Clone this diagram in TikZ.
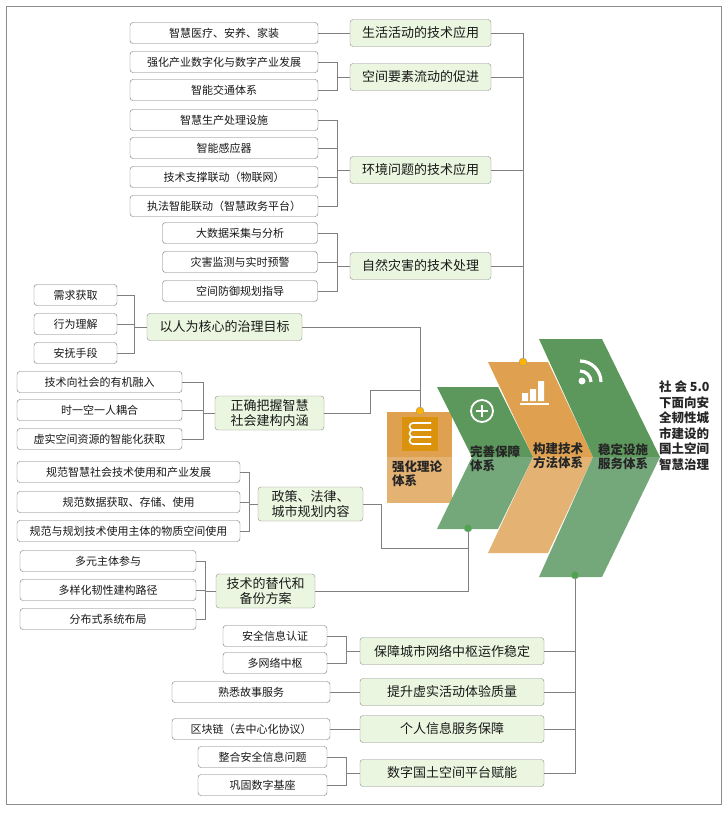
\documentclass[tikz,border=0pt]{standalone}
\usepackage{fontspec}
\setmainfont{Noto Sans CJK SC}
\begin{document}
\begin{tikzpicture}[x=1pt,y=-1pt,
 leaf/.style={draw=black!55,rounded corners=3pt,fill=white,minimum height=21pt,inner sep=1pt,font=\fontsize{11}{12}\selectfont,text=black!90},
 cat/.style={draw=black!45,rounded corners=3pt,fill=green!40!olive!12,minimum height=27pt,inner sep=2pt,font=\fontsize{13}{15}\selectfont,text=black!90,align=center},
 ln/.style={draw=black!50,line width=0.8pt},
 lab/.style={font=\bfseries\fontsize{12.5}{14}\selectfont,align=left,text=black!85,inner sep=0pt,anchor=north west},
 dot/.style={circle,draw=black!40,minimum size=8pt,inner sep=0pt}]
\useasboundingbox (0,0) rectangle (728,814);
\draw[black!45,line width=0.8pt] (6,6) rectangle (721,804);
\definecolor{og1}{HTML}{DFA150}\definecolor{og2}{HTML}{E4B273}
\definecolor{gr1}{HTML}{5C975C}\definecolor{gr2}{HTML}{74A87A}
% chevrons
\fill[og1] (387,412) rectangle (452,457);
\fill[og2] (387,457) rectangle (452,503);
\fill[gr1] (437,387) -- (498,387) -- (533,457) -- (472,457) -- cycle;
\fill[gr2] (472,457) -- (533,457) -- (498,529) -- (437,529) -- cycle;
\fill[og1] (488,362) -- (548,362) -- (593,457) -- (533,457) -- cycle;
\fill[og2] (533,457) -- (593,457) -- (548,553) -- (488,553) -- cycle;
\fill[gr1] (539,339) -- (602,339) -- (660,457) -- (593,457) -- cycle;
\fill[gr2] (593,457) -- (660,457) -- (602,577) -- (539,577) -- cycle;
% icons
\fill[orange!70!yellow!85!black!95] (402,417) rectangle (438,451);
\begin{scope}[white,line width=1.6pt]
\foreach \d in {0,7,14}{\draw (431,423+\d) -- (413,423+\d) arc(-90:-270:3.5) -- (431,430+\d);}
\end{scope}
\draw[white,line width=1.8pt] (482,411) circle (11);
\draw[white,line width=2.4pt] (476,411) -- (488,411) (482,405) -- (482,417);
\fill[white] (522,393) rectangle (528,401) (530,389) rectangle (536,401) (538,381) rectangle (544,401);
\fill[white] (520,403) rectangle (549,404.5);
\fill[white] (582,381) circle (3.5);
\draw[white,line width=3.2pt] (580,371) arc(-90:0:11) (580,361) arc(-90:0:21);
% chevron labels
\node[lab] at (392,461) {强化理论\\体系};
\node[lab] at (470,445) {完善保障\\体系};
\node[lab] at (533,443) {构建技术\\方法体系};
\node[lab] at (598,443) {稳定设施\\服务体系};
\node[lab,font=\bfseries\fontsize{12.5}{15.5}\selectfont] at (659,381) {社 会 5.0\\下面向安\\全韧性城\\市建设的\\国土空间\\智慧治理};
% dots
\node[dot,fill=orange!60!yellow] (d1) at (420,411) {};
\node[dot,fill=orange!60!yellow] (d2) at (523,362) {};
\node[dot,fill=green!50!black!70] (d3) at (468,528) {};
\node[dot,fill=green!50!black!70] (d4) at (575,575) {};
% top group
\node[cat,minimum width=141pt] (c1) at (420.5,33) {生活活动的技术应用};
\node[cat,minimum width=141pt] (c2) at (420.5,77) {空间要素流动的促进};
\node[cat,minimum width=141pt] (c3) at (420.5,170) {环境问题的技术应用};
\node[cat,minimum width=141pt] (c4) at (420.5,266) {自然灾害的技术处理};
\node[leaf,minimum width=188pt] (a1) at (224,33) {智慧医疗、安养、家装};
\node[leaf,minimum width=188pt] (a2) at (224,62) {强化产业数字化与数字产业发展};
\node[leaf,minimum width=188pt] (a3) at (224,90) {智能交通体系};
\node[leaf,minimum width=188pt] (a4) at (224,120) {智慧生产处理设施};
\node[leaf,minimum width=188pt] (a5) at (224,148) {智能感应器};
\node[leaf,minimum width=188pt] (a6) at (224,177) {技术支撑联动（物联网）};
\node[leaf,minimum width=188pt] (a7) at (224,206) {执法智能联动（智慧政务平台）};
\node[leaf,minimum width=155pt] (a8) at (240,233) {大数据采集与分析};
\node[leaf,minimum width=155pt] (a9) at (240,262) {灾害监测与实时预警};
\node[leaf,minimum width=155pt] (a10) at (240,291) {空间防御规划指导};
\draw[ln] (a1) -- (c1);
\foreach \l in {a2,a3}{\draw[ln] (\l.east) -| ([xshift=-12pt]c2.west) -- (c2.west);}
\foreach \l in {a4,a5,a6,a7}{\draw[ln] (\l.east) -| ([xshift=-12pt]c3.west) -- (c3.west);}
\foreach \l in {a8,a9,a10}{\draw[ln] (\l.east) -| ([xshift=-12pt]c4.west) -- (c4.west);}
\foreach \c in {c1,c2,c3,c4}{\draw[ln] (\c.east) -| (d2.north);}
% left middle
\node[cat,minimum width=155pt] (h) at (224.5,327) {以人为核心的治理目标};
\node[leaf,minimum width=83pt] (b1) at (75.5,295) {需求获取};
\node[leaf,minimum width=83pt] (b2) at (75.5,324) {行为理解};
\node[leaf,minimum width=83pt] (b3) at (75.5,353) {安抚手段};
\foreach \l in {b1,b2,b3}{\draw[ln] (\l.east) -| ([xshift=-12pt]h.west) -- (h.west);}
\draw[ln] (h.east) -| (d1.north);
\node[cat,minimum width=109pt,minimum height=34pt] (k) at (269.5,413) {正确把握智慧\\社会建构内涵};
\node[leaf,minimum width=165pt] (e1) at (99.5,382) {技术向社会的有机融入};
\node[leaf,minimum width=165pt] (e2) at (99.5,410) {时一空一人耦合};
\node[leaf,minimum width=165pt] (e3) at (99.5,439) {虚实空间资源的智能化获取};
\foreach \l in {e1,e2,e3}{\draw[ln] (\l.east) -| ([xshift=-11pt]k.west) -- (k.west);}
\coordinate (k1) at (370,390);
\draw[ln] (k.east) -| (k1) -| (d1.north);
\node[cat,minimum width=105pt,minimum height=34pt] (p) at (310.5,504) {政策、法律、\\城市规划内容};
\node[leaf,minimum width=223pt] (f1) at (128.5,472) {规范智慧社会技术使用和产业发展};
\node[leaf,minimum width=223pt] (f2) at (128.5,502) {规范数据获取、存储、使用};
\node[leaf,minimum width=223pt] (f3) at (128.5,531) {规范与规划技术使用主体的物质空间使用};
\foreach \l in {f1,f2,f3}{\draw[ln] (\l.east) -| ([xshift=-8pt]p.west) -- (p.west);}
\coordinate (p1) at (381,548);
\draw[ln] (p.east) -| (p1) -| (d3.south);
\node[cat,minimum width=99pt,minimum height=34pt] (t) at (265.5,591) {技术的替代和\\备份方案};
\node[leaf,minimum width=176pt] (g1) at (108,561) {多元主体参与};
\node[leaf,minimum width=176pt] (g2) at (108,590) {多样化韧性建构路径};
\node[leaf,minimum width=176pt] (g3) at (108,619) {分布式系统布局};
\foreach \l in {g1,g2,g3}{\draw[ln] (\l.east) -| ([xshift=-10pt]t.west) -- (t.west);}
\draw[ln] (t.east) -| (d3.south);
% bottom group
\node[cat,minimum width=184pt] (m1) at (452,651) {保障城市网络中枢运作稳定};
\node[cat,minimum width=184pt] (m2) at (452,692) {提升虚实活动体验质量};
\node[cat,minimum width=184pt] (m3) at (452,729) {个人信息服务保障};
\node[cat,minimum width=184pt] (m4) at (452,773) {数字国土空间平台赋能};
\node[leaf,minimum width=104pt] (n1) at (275,636) {安全信息认证};
\node[leaf,minimum width=104pt] (n2) at (275,663) {多网络中枢};
\node[leaf,minimum width=158pt] (n3) at (251,692) {熟悉故事服务};
\node[leaf,minimum width=158pt] (n4) at (251,729) {区块链（去中心化协议）};
\node[leaf,minimum width=129pt] (n5) at (262.5,757) {整合安全信息问题};
\node[leaf,minimum width=129pt] (n6) at (262.5,785) {巩固数字基座};
\foreach \l in {n1,n2}{\draw[ln] (\l.east) -| ([xshift=-13pt]m1.west) -- (m1.west);}
\draw[ln] (n3) -- (m2); \draw[ln] (n4) -- (m3);
\foreach \l in {n5,n6}{\draw[ln] (\l.east) -| ([xshift=-13pt]m4.west) -- (m4.west);}
\foreach \c in {m1,m2,m3,m4}{\draw[ln] (\c.east) -| (d4.south);}
\end{tikzpicture}
\end{document}
